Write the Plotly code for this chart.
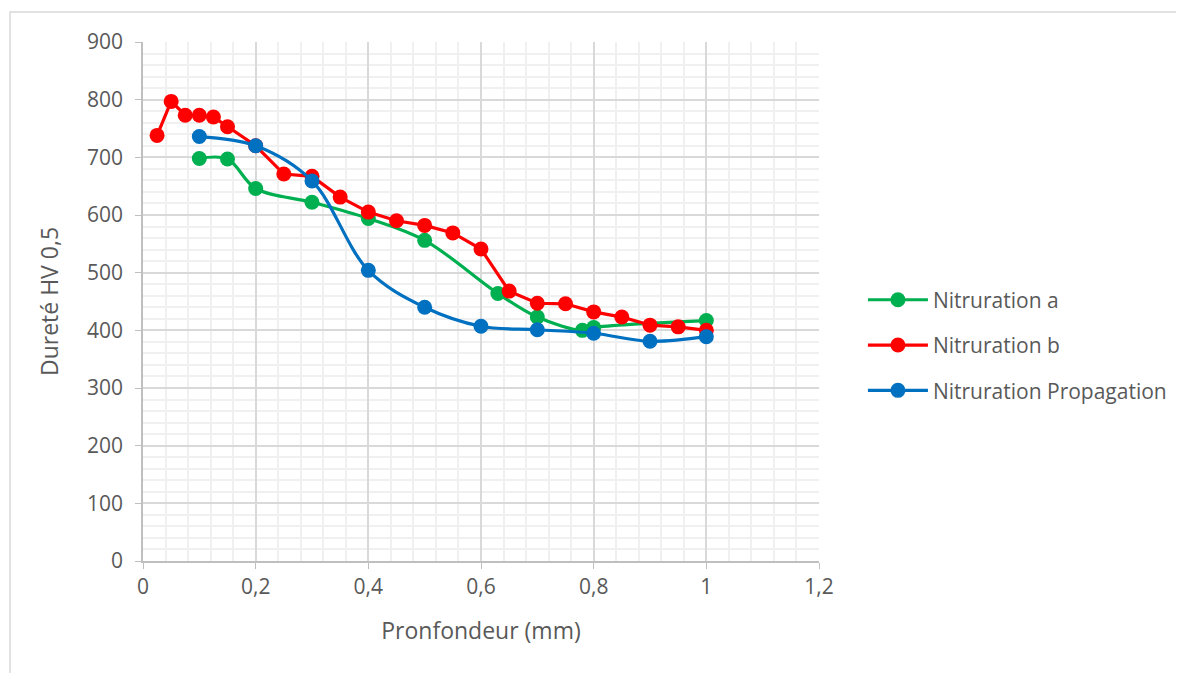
import plotly.graph_objects as go

# Nitruration a (green)
x_a = [0.1, 0.15, 0.2, 0.3, 0.4, 0.5, 0.63, 0.7, 0.78, 0.8, 1.0]
y_a = [698, 697, 646, 622, 594, 556, 464, 423, 400, 405, 417]

# Nitruration b (red)
x_b = [0.025, 0.05, 0.075, 0.1, 0.125, 0.15, 0.2, 0.25, 0.3, 0.35, 0.4, 0.45,
       0.5, 0.55, 0.6, 0.65, 0.7, 0.75, 0.8, 0.85, 0.9, 0.95, 1.0]
y_b = [738, 797, 773, 773, 770, 753, 720, 671, 667, 631, 605, 590,
       582, 569, 541, 468, 447, 446, 432, 423, 409, 406, 400]

# Nitruration Propagation (blue)
x_p = [0.1, 0.2, 0.3, 0.4, 0.5, 0.6, 0.7, 0.8, 0.9, 1.0]
y_p = [736, 720, 659, 504, 440, 407, 401, 395, 381, 389]

font_family = "'Open Sans', sans-serif"
txt = "#595959"

fig = go.Figure()
fig.add_trace(go.Scatter(x=x_a, y=y_a, name="Nitruration a", mode="lines+markers", legendgroup="a",
                         line=dict(color="#00b050", width=3.2, shape="spline", smoothing=1),
                         marker=dict(color="#00b050", size=15)))
fig.add_trace(go.Scatter(x=x_b, y=y_b, name="Nitruration b", mode="lines+markers", legendgroup="b",
                         line=dict(color="#ff0000", width=3.2),
                         marker=dict(color="#ff0000", size=15)))
fig.add_trace(go.Scatter(x=x_p, y=y_p, name="Nitruration Propagation", mode="lines+markers", legendgroup="p",
                         line=dict(color="#0070c0", width=3.2, shape="spline", smoothing=1),
                         marker=dict(color="#0070c0", size=15)))

# page body has an 8px margin: shift figure so plot area sits at x 143..819, y 42..561
fig.update_layout(
    width=1176, height=665,
    margin=dict(l=135, r=365, t=34, b=112, autoexpand=False),
    paper_bgcolor="white", plot_bgcolor="white",
    separators=", ",
    font=dict(family=font_family, size=21, color=txt),
    legend=dict(x=1.065, y=0.416, xanchor="left", yanchor="middle",
                font=dict(size=21, color=txt), tracegroupgap=15, itemwidth=60,
                bgcolor="rgba(0,0,0,0)"),
    showlegend=True,
)
fig.update_xaxes(
    range=[0, 1.2], dtick=0.2, tick0=0,
    showgrid=True, gridcolor="#d9d9d9", gridwidth=1.5,
    minor=dict(dtick=0.04, showgrid=True, gridcolor="#f0f0f0", gridwidth=1.5),
    showline=True, linecolor="#bfbfbf", linewidth=1.5,
    ticks="outside", ticklen=6, tickcolor="#bfbfbf",
    zeroline=False,
    title=dict(text="Pronfondeur (mm)", font=dict(size=23, color=txt), standoff=24),
    tickfont=dict(size=21, color=txt),
)
fig.update_yaxes(
    range=[0, 900], dtick=100, tick0=0,
    showgrid=True, gridcolor="#d9d9d9", gridwidth=1.5,
    minor=dict(dtick=20, showgrid=True, gridcolor="#f0f0f0", gridwidth=1.5),
    showline=True, linecolor="#bfbfbf", linewidth=1.5,
    ticks="outside", ticklen=6, tickcolor="#bfbfbf",
    ticklabelstandoff=8,
    zeroline=False,
    title=dict(text="Dureté HV 0,5", font=dict(size=23, color=txt), standoff=22),
    tickfont=dict(size=21, color=txt),
)
fig.add_shape(type="rect", xref="paper", yref="paper",
              x0=(10 - 143) / 676, x1=(1200 - 143) / 676,
              y0=(561 - 690) / 519, y1=(561 - 12) / 519,
              line=dict(color="#d9d9d9", width=1.5), fillcolor="rgba(0,0,0,0)", layer="below")

fig.write_html("out.html")
